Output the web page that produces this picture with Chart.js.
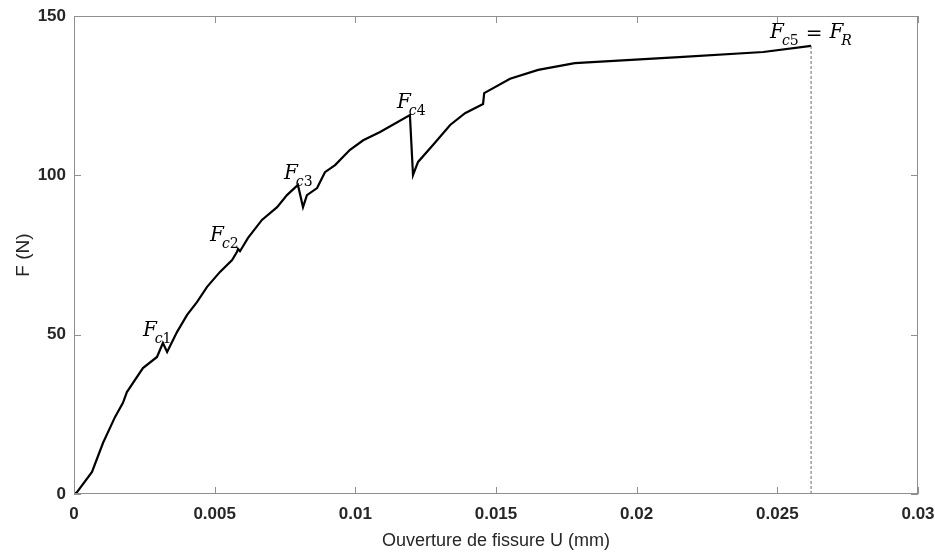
<!DOCTYPE html>
<html>
<head>
<meta charset="utf-8">
<script src="https://cdn.jsdelivr.net/npm/chart.js@4/dist/chart.umd.min.js"></script>
<style>
    html, body { margin: 0; padding: 0; background: #fff; }
    #wrap { width: 935px; height: 552px; }
</style>
</head>
<body>
<div id="wrap"><canvas id="chart"></canvas></div>
<script>
const crackOpening = [0, 0.0001, 0.00064, 0.00103, 0.00146, 0.00174, 0.00188, 0.00245, 0.00295, 0.00316,
    0.00331, 0.00366, 0.00402, 0.00437, 0.00473, 0.00519, 0.00562, 0.00579, 0.00583, 0.0059,
    0.00597, 0.00618, 0.00668, 0.00722, 0.00757, 0.00796, 0.00814, 0.00828, 0.00864, 0.00892,
    0.00928, 0.00981, 0.01028, 0.01088, 0.01194, 0.01205, 0.01223, 0.01276, 0.01337, 0.0139,
    0.01454, 0.01458, 0.0155, 0.0165, 0.0178, 0.0215, 0.0245, 0.0262];
const force = [0, 0.5, 6.9, 16, 24.2, 28.6, 32, 39.5, 43, 47.4,
    44.6, 50.8, 56.2, 60.2, 65, 69.7, 73.4, 75.9, 76.9, 76.2,
    77.2, 80.3, 86, 90, 93.8, 97, 90, 93.8, 96, 101,
    103.2, 108, 111, 113.6, 118.9, 100.1, 104.2, 109.5, 115.8, 119.5,
    122.4, 125.8, 130.3, 133.1, 135.2, 137.1, 138.7, 140.6];
const xTickLabels = ['0', '0.005', '0.01', '0.015', '0.02', '0.025', '0.03'];
const yTickLabels = ['0', '50', '100', '150'];
// index of each crack load in the arrays above, with its subscript
const crackIndices = [9, 18, 25, 34, 47];
const crackNames = ['c1', 'c2', 'c3', 'c4', 'c5'];
const labelOffsets = [[-20, -7], [-28, -8], [-14, -6], [-13, -7], [-41, -8]];

const curve = crackOpening.map((u, i) => ({ x: u, y: force[i] }));
const rupture = curve[curve.length - 1];

const axisColor = '#8f8f8f';
const tickColor = '#262626';

const boxPlugin = {
    id: 'box',
    afterDraw(chart) {
        const { ctx, chartArea: a, scales } = chart;
        const len = 7;
        ctx.save();
        ctx.strokeStyle = axisColor;
        ctx.lineWidth = 1;
        ctx.strokeRect(a.left + 0.5, a.top + 0.5, a.right - a.left - 1, a.bottom - a.top - 1);
        ctx.beginPath();
        scales.x.ticks.forEach((t) => {
            const px = Math.round(scales.x.getPixelForValue(t.value)) + 0.5;
            ctx.moveTo(px, a.bottom);
            ctx.lineTo(px, a.bottom - len);
            ctx.moveTo(px, a.top);
            ctx.lineTo(px, a.top + len);
        });
        scales.y.ticks.forEach((t) => {
            const py = Math.round(scales.y.getPixelForValue(t.value)) + 0.5;
            ctx.moveTo(a.left, py);
            ctx.lineTo(a.left + len, py);
            ctx.moveTo(a.right, py);
            ctx.lineTo(a.right - len, py);
        });
        ctx.stroke();
        ctx.restore();
    },
};

function drawCrackLabel(ctx, x, y, sub, withRupture) {
    ctx.fillStyle = '#000';
    ctx.textBaseline = 'alphabetic';
    ctx.textAlign = 'left';
    ctx.font = 'italic 20px "DejaVu Serif"';
    ctx.fillText('F', x, y);
    let cx = x + ctx.measureText('F').width - 2;
    ctx.font = 'italic 14px "DejaVu Serif"';
    ctx.fillText(sub[0], cx, y + 7);
    cx += ctx.measureText(sub[0]).width;
    ctx.font = '14px "DejaVu Serif"';
    ctx.fillText(sub[1], cx, y + 7);
    cx += ctx.measureText(sub[1]).width;
    if (withRupture) {
        ctx.font = '20px "DejaVu Serif"';
        ctx.fillText('=', cx + 7, y + 2);
        cx += 7 + ctx.measureText('=').width + 7;
        ctx.font = 'italic 20px "DejaVu Serif"';
        ctx.fillText('F', cx, y);
        cx += ctx.measureText('F').width - 2;
        ctx.font = 'italic 14px "DejaVu Serif"';
        ctx.fillText('R', cx, y + 7);
    }
}

const labelPlugin = {
    id: 'crackLabels',
    afterDatasetsDraw(chart) {
        const { ctx, scales } = chart;
        ctx.save();
        crackIndices.forEach((idx, i) => {
            const px = scales.x.getPixelForValue(crackOpening[idx]);
            const py = scales.y.getPixelForValue(force[idx]);
            const [dx, dy] = labelOffsets[i];
            drawCrackLabel(ctx, px + dx, py + dy, crackNames[i], i === crackIndices.length - 1);
        });
        ctx.restore();
    },
};

new Chart(document.getElementById('chart'), {
    type: 'scatter',
    data: {
        datasets: [
            {
                data: [{ x: rupture.x, y: rupture.y }, { x: rupture.x, y: 0 }],
                showLine: true,
                borderColor: '#666',
                borderWidth: 1,
                borderDash: [3, 2],
                pointRadius: 0,
            },
            {
                data: curve,
                showLine: true,
                borderColor: '#000',
                borderWidth: 2.2,
                pointRadius: 0,
                tension: 0,
            },
        ],
    },
    options: {
        responsive: true,
        maintainAspectRatio: false,
        animation: false,
        layout: { padding: { top: 16, right: 17, left: 0, bottom: 0 } },
        plugins: {
            legend: { display: false },
            tooltip: { enabled: false },
        },
        scales: {
            x: {
                type: 'linear',
                min: 0,
                max: 0.03,
                afterBuildTicks: (scale) => {
                    scale.ticks = xTickLabels.map((l) => ({ value: Number(l) }));
                },
                afterFit: (scale) => {
                    scale.height = 58;
                    scale.paddingLeft = 0;
                    scale.paddingRight = 0;
                },
                grid: { display: false, drawTicks: false },
                border: { display: false },
                ticks: {
                    padding: 10,
                    color: tickColor,
                    font: { family: 'Liberation Sans', size: 17, weight: 'bold' },
                    callback: (v, i) => xTickLabels[i],
                },
                title: {
                    display: true,
                    text: 'Ouverture de fissure U (mm)',
                    color: tickColor,
                    font: { family: 'Liberation Sans', size: 18 },
                    padding: { top: 0, bottom: 0 },
                },
            },
            y: {
                type: 'linear',
                min: 0,
                max: 150,
                afterBuildTicks: (scale) => {
                    scale.ticks = yTickLabels.map((l) => ({ value: Number(l) }));
                },
                afterFit: (scale) => {
                    scale.width = 74;
                    scale.paddingTop = 0;
                    scale.paddingBottom = 0;
                },
                grid: { display: false, drawTicks: false },
                border: { display: false },
                ticks: {
                    padding: 8,
                    color: tickColor,
                    font: { family: 'Liberation Sans', size: 17, weight: 'bold' },
                    callback: (v, i) => yTickLabels[i],
                },
                title: {
                    display: true,
                    text: 'F (N)',
                    color: tickColor,
                    font: { family: 'Liberation Sans', size: 19 },
                    padding: { top: 12, bottom: 0 },
                },
            },
        },
    },
    plugins: [boxPlugin, labelPlugin],
});
</script>
</body>
</html>
